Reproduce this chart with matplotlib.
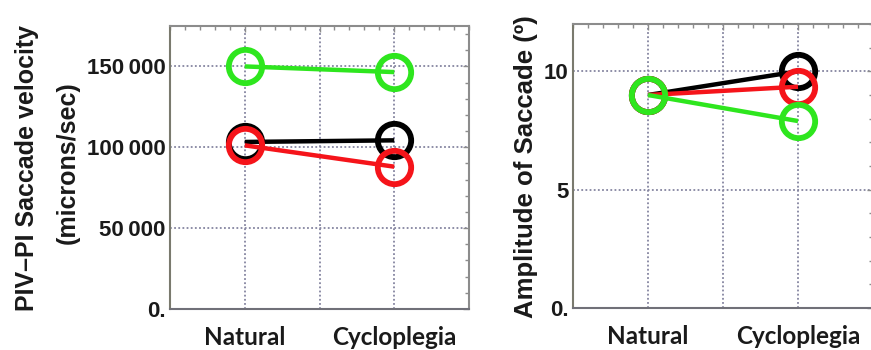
import matplotlib
matplotlib.use("Agg")
import matplotlib.pyplot as plt
from matplotlib.ticker import MultipleLocator, FixedLocator

categories = ["Natural", "Cycloplegia"]
cat_pos = [1, 2]

# PIV-PI saccade velocity (microns/sec)
vel_green = [150000, 146500]
vel_black = [103300, 104300]
vel_red = [101200, 88000]

# amplitude of saccade (degrees)
amp_black = [9.0, 10.0]
amp_red = [9.0, 9.35]
amp_green = [9.0, 7.9]

vel_ticks = [0, 50000, 100000, 150000]
vel_labels = ["0.", "50\u2009000", "100\u2009000", "150\u2009000"]
amp_ticks = [0, 5, 10]
amp_labels = ["0.", "5", "10"]

GREEN = "#2ee61e"
RED = "#f5141a"
BLACK = "#000000"
GRID = "#8585a0"
FRAME = "#8c8c8c"

NUM_FONT = ["Liberation Sans", "DejaVu Sans"]
CAT_FONT = ["Lato", "DejaVu Sans"]


def style_axes(ax, ymax, yticks, ylabels, yminor):
    ax.set_xlim(0.5, 2.5)
    ax.set_ylim(0, ymax)
    ax.xaxis.set_major_locator(FixedLocator([1, 1.5, 2]))
    ax.set_xticklabels([categories[0], "", categories[1]], family=CAT_FONT,
                       fontsize=17.5, fontweight="bold", color="#1a1a1a")
    ax.xaxis.set_minor_locator(MultipleLocator(0.1))
    ax.set_yticks(yticks)
    ax.set_yticklabels(ylabels, family=NUM_FONT, fontsize=16, fontweight="bold", color="#1a1a1a")
    ax.yaxis.set_minor_locator(MultipleLocator(yminor))
    ax.tick_params(which="both", direction="in", left=False, bottom=False, top=True, right=True,
                   color=FRAME, width=1)
    ax.tick_params(which="major", length=4, pad=3)
    ax.tick_params(which="minor", length=3)
    ax.tick_params(axis="x", pad=12)
    ax.grid(True, which="major", color=GRID, linestyle=(0, (1, 1.3)), linewidth=1.3)
    for side, sp in ax.spines.items():
        sp.set_color(FRAME)
        sp.set_linewidth(1.5)
    ax.spines["left"].set_color("#7a7a6e")
    ax.spines["bottom"].set_color("#707078")


def series(ax, y, color):
    ax.plot(cat_pos, y, color=color, lw=3.2, marker="o", ms=24, mfc="none",
            mec=color, mew=4.2, solid_capstyle="butt", zorder=3)


fig = plt.figure(figsize=(8.71, 3.5), dpi=100, facecolor="white")

ax1 = fig.add_axes([170 / 871, 41 / 350, 299 / 871, 283 / 350])
style_axes(ax1, 175000, vel_ticks, vel_labels, 10000)
series(ax1, vel_green, GREEN)
series(ax1, vel_black, BLACK)
series(ax1, vel_red, RED)
fig.text(27 / 871, 0.52, "PIV\u2013PI Saccade velocity", rotation=90, ha="center", va="center",
         family=NUM_FONT, fontsize=18, fontweight="bold", color="#1a1a1a")
fig.text(68 / 871, 0.535, "(microns/sec)", rotation=90, ha="center", va="center",
         family=NUM_FONT, fontsize=18, fontweight="bold", color="#1a1a1a")

ax2 = fig.add_axes([573 / 871, 42 / 350, 300 / 871, 284 / 350])
style_axes(ax2, 12, amp_ticks, amp_labels, 1)
series(ax2, amp_black, BLACK)
series(ax2, amp_red, RED)
series(ax2, amp_green, GREEN)
fig.text(526 / 871, 0.525, "Amplitude of Saccade (\u00ba)", rotation=90, ha="center", va="center",
         family=NUM_FONT, fontsize=18.5, fontweight="bold", color="#1a1a1a")

fig.savefig("out.png", dpi=100, facecolor="white")
